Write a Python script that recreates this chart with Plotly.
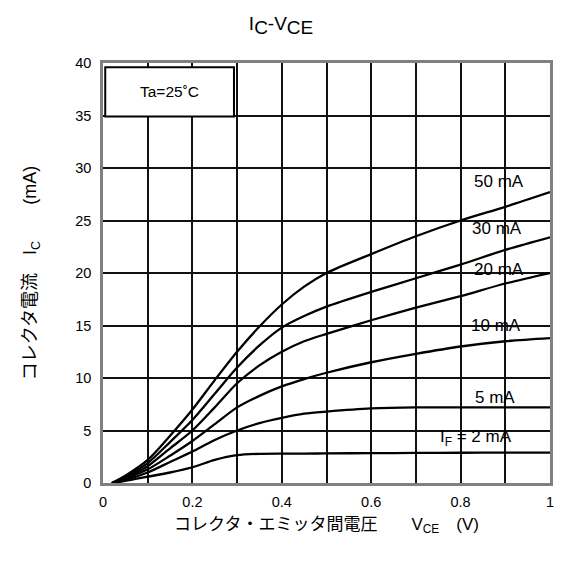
import plotly.graph_objects as go

# V_CE sample points (V)
VCE = [0.02, 0.05, 0.1, 0.15, 0.2, 0.25, 0.3, 0.35, 0.4, 0.45, 0.5, 0.6, 0.7, 0.8, 0.9, 1.0]

# I_C (mA) per forward current I_F
IC_50MA = [0.0, 0.7, 2.2, 4.5, 7.0, 9.8, 12.5, 14.9, 17.0, 18.7, 20.0, 21.8, 23.5, 25.0, 26.3, 27.7]
IC_30MA = [0.0, 0.6, 1.9, 3.9, 6.0, 8.5, 11.0, 13.1, 14.8, 15.9, 16.8, 18.2, 19.5, 20.8, 22.2, 23.4]
IC_20MA = [0.0, 0.5, 1.6, 3.3, 5.0, 7.2, 9.5, 11.2, 12.5, 13.5, 14.2, 15.5, 16.7, 17.8, 19.0, 20.0]
IC_10MA = [0.0, 0.4, 1.3, 2.6, 4.0, 5.6, 7.2, 8.3, 9.2, 9.9, 10.5, 11.5, 12.3, 13.0, 13.5, 13.8]
IC_5MA = [0.0, 0.3, 1.0, 2.0, 3.0, 4.1, 5.0, 5.7, 6.2, 6.6, 6.8, 7.1, 7.2, 7.2, 7.2, 7.2]
IC_2MA = [0.0, 0.2, 0.6, 1.0, 1.5, 2.2, 2.65, 2.78, 2.8, 2.8, 2.82, 2.84, 2.86, 2.88, 2.9, 2.9]

SERIES = [IC_50MA, IC_30MA, IC_20MA, IC_10MA, IC_5MA, IC_2MA]

LABELS = ["50 mA", "30 mA", "20 mA", "10 mA", "5 mA", "I<sub>F</sub> = 2 mA"]
LABEL_X = [0.887, 0.882, 0.885, 0.88, 0.878, 0.835]
LABEL_Y = [28.7, 24.2, 20.3, 15.0, 8.1, 4.3]

X_TICKS = [0, 0.2, 0.4, 0.6, 0.8, 1]
X_TICK_TEXT = ["0", "0.2", "0.4", "0.6", "0.8", "1"]
Y_TICKS = [0, 5, 10, 15, 20, 25, 30, 35, 40]

FONT = "Liberation Sans, Arial, Noto Sans CJK JP, sans-serif"

fig = go.Figure()
for ic in SERIES:
    fig.add_trace(
        go.Scatter(
            x=VCE,
            y=ic,
            mode="lines",
            line={"color": "black", "width": 2.3, "shape": "spline", "smoothing": 0.8},
            showlegend=False,
            hoverinfo="skip",
        )
    )

for text, lx, ly in zip(LABELS, LABEL_X, LABEL_Y):
    fig.add_annotation(
        x=lx, y=ly, text=text, showarrow=False,
        font={"family": FONT, "size": 17, "color": "black"},
    )

# Ta box
fig.add_shape(
    type="rect", x0=0.005, x1=0.293, y0=34.9, y1=39.6,
    line={"color": "black", "width": 2}, fillcolor="white", layer="above",
)
fig.add_annotation(
    x=0.149, y=37.25, text="Ta=25˚C", showarrow=False,
    font={"family": FONT, "size": 15.5, "color": "black"},
)

# the page body adds an 8px offset, so the figure is 8px smaller than the window
fig.update_layout(
    width=555,
    height=558,
    paper_bgcolor="white",
    plot_bgcolor="white",
    margin={"l": 95, "r": 9, "t": 55, "b": 83},
    font={"family": FONT, "color": "black", "size": 14},
    title={
        "text": "I<sub><span style='font-size:19px'>C</span></sub>-V<sub><span style='font-size:19px'>CE</span></sub>",
        "x": 0.492, "xanchor": "center", "y": 0.972, "yanchor": "middle",
        "font": {"family": FONT, "size": 19, "color": "black"},
    },
    xaxis={
        "range": [0, 1],
        "tickvals": X_TICKS,
        "ticktext": X_TICK_TEXT,
        "showgrid": True,
        "gridcolor": "#111111",
        "gridwidth": 1.5,
        "minor": {"dtick": 0.1, "showgrid": True, "gridcolor": "#111111", "gridwidth": 1.5},
        "showline": True,
        "linecolor": "#808080",
        "linewidth": 2.5,
        "mirror": True,
        "zeroline": False,
        "ticks": "",
        "ticklabelstandoff": 4,
        "tickfont": {"size": 14.5},
        "title": {
            "text": "コレクタ・エミッタ間電圧　　V<sub>CE</sub>　(V)",
            "font": {"family": FONT, "size": 17},
            "standoff": 9,
        },
    },
    yaxis={
        "range": [0, 40],
        "tickvals": Y_TICKS,
        "showgrid": True,
        "gridcolor": "#111111",
        "gridwidth": 1.5,
        "showline": True,
        "linecolor": "#808080",
        "linewidth": 2.5,
        "mirror": True,
        "zeroline": False,
        "ticks": "",
        "ticklabelstandoff": 6,
        "tickfont": {"size": 14.5},
        "title": {
            "text": "コレクタ電流　I<sub>C</sub>　　(mA)",
            "font": {"family": FONT, "size": 18},
            "standoff": 34,
        },
    },
)

fig.write_html("out.html")
